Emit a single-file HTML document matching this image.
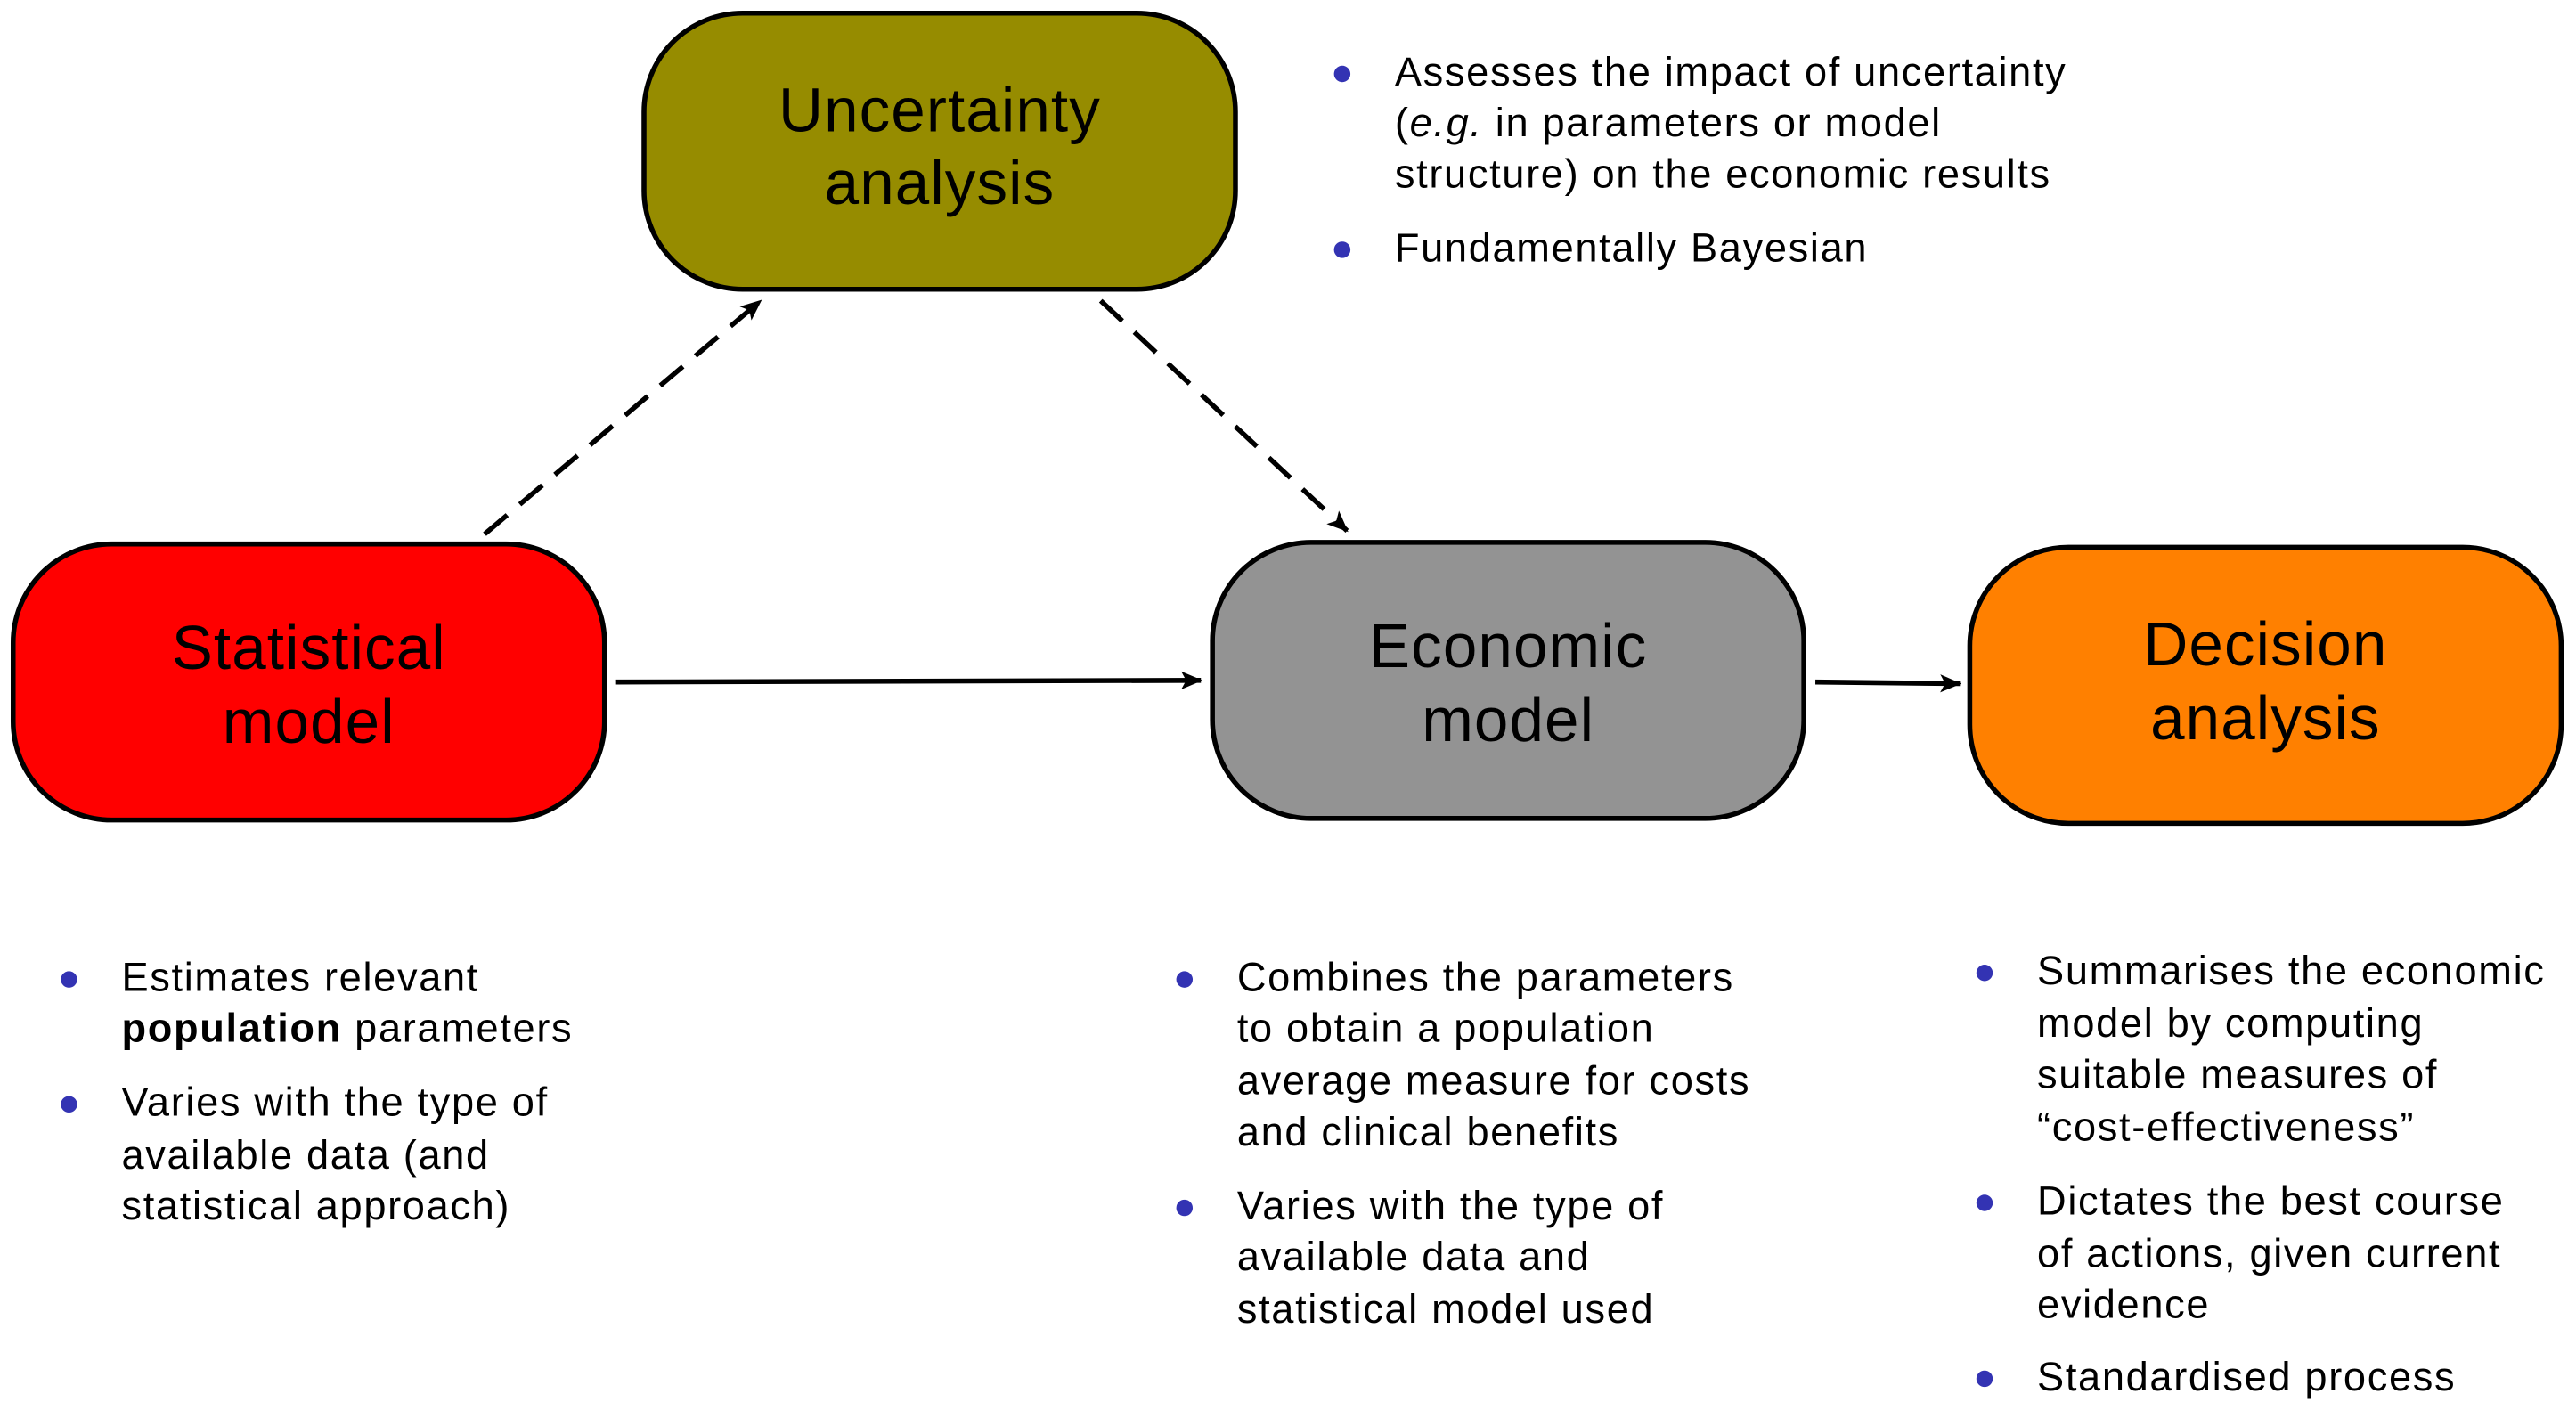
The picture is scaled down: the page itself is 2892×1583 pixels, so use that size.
<!DOCTYPE html>
<html><head><meta charset="utf-8"><style>
html,body{margin:0;padding:0;background:#fff;}
svg{display:block;}
text{font-family:"Liberation Sans",sans-serif;fill:#000;}
.b{font-size:37.5px;text-anchor:middle;letter-spacing:0.6px;}
.t{font-size:24.5px;letter-spacing:0.9px;}
</style></head><body>
<svg width="2892" height="1583" viewBox="0 0 1568 858" preserveAspectRatio="none" xmlns="http://www.w3.org/2000/svg">
<defs>
<marker id="ah" markerWidth="16" markerHeight="16" refX="13" refY="7" orient="auto" markerUnits="userSpaceOnUse">
<path d="M1,1.5 L14,7 L1,12.5 L4,7 Z" fill="#000"/>
</marker>
</defs>
<rect x="392" y="8" width="360" height="168" rx="60" fill="#968c00" stroke="#000" stroke-width="3"/>
<rect x="8" y="331" width="360" height="168" rx="60" fill="#ff0000" stroke="#000" stroke-width="3"/>
<rect x="738" y="330" width="360" height="168" rx="60" fill="#939393" stroke="#000" stroke-width="3"/>
<rect x="1199" y="333" width="360" height="168" rx="60" fill="#ff8000" stroke="#000" stroke-width="3"/>
<text class="b" x="572" y="80">Uncertainty</text>
<text class="b" x="572" y="124">analysis</text>
<text class="b" x="188" y="407">Statistical</text>
<text class="b" x="188" y="452">model</text>
<text class="b" x="918" y="406">Economic</text>
<text class="b" x="918" y="451">model</text>
<text class="b" x="1379" y="405">Decision</text>
<text class="b" x="1379" y="450">analysis</text>
<g stroke="#000" stroke-width="3" fill="none">
<line x1="375" y1="415" x2="731" y2="414" marker-end="url(#ah)"/>
<line x1="1105" y1="415" x2="1193" y2="416" marker-end="url(#ah)"/>
<line x1="295" y1="325" x2="463" y2="183" stroke-dasharray="18,10" marker-end="url(#ah)"/>
<line x1="670" y1="183" x2="820" y2="323" stroke-dasharray="18,10" marker-end="url(#ah)"/>
</g>
<g fill="#3333b3">
<circle cx="817" cy="45" r="5"/><circle cx="817" cy="152" r="5"/>
<circle cx="42" cy="596" r="5"/><circle cx="42" cy="672" r="5"/>
<circle cx="721" cy="596" r="5"/><circle cx="721" cy="735" r="5"/>
<circle cx="1208" cy="592" r="5"/><circle cx="1208" cy="732" r="5"/><circle cx="1208" cy="839" r="5"/>
</g>
<g>
<text class="t" x="849" y="52">Assesses the impact of uncertainty</text>
<text class="t" x="849" y="83">(<tspan font-style="italic">e.g.</tspan> in parameters or model</text>
<text class="t" x="849" y="114">structure) on the economic results</text>
<text class="t" x="849" y="159">Fundamentally Bayesian</text>

<text class="t" x="74" y="603">Estimates relevant</text>
<text class="t" x="74" y="634"><tspan font-weight="bold">population</tspan> parameters</text>
<text class="t" x="74" y="679">Varies with the type of</text>
<text class="t" x="74" y="711">available data (and</text>
<text class="t" x="74" y="742">statistical approach)</text>

<text class="t" x="753" y="603">Combines the parameters</text>
<text class="t" x="753" y="634">to obtain a population</text>
<text class="t" x="753" y="666">average measure for costs</text>
<text class="t" x="753" y="697">and clinical benefits</text>
<text class="t" x="753" y="742">Varies with the type of</text>
<text class="t" x="753" y="773">available data and</text>
<text class="t" x="753" y="805">statistical model used</text>

<text class="t" x="1240" y="599">Summarises the economic</text>
<text class="t" x="1240" y="631">model by computing</text>
<text class="t" x="1240" y="662">suitable measures of</text>
<text class="t" x="1240" y="694">“cost-effectiveness”</text>
<text class="t" x="1240" y="739">Dictates the best course</text>
<text class="t" x="1240" y="771">of actions, given current</text>
<text class="t" x="1240" y="802">evidence</text>
<text class="t" x="1240" y="846">Standardised process</text>
</g>
</svg>
</body></html>
